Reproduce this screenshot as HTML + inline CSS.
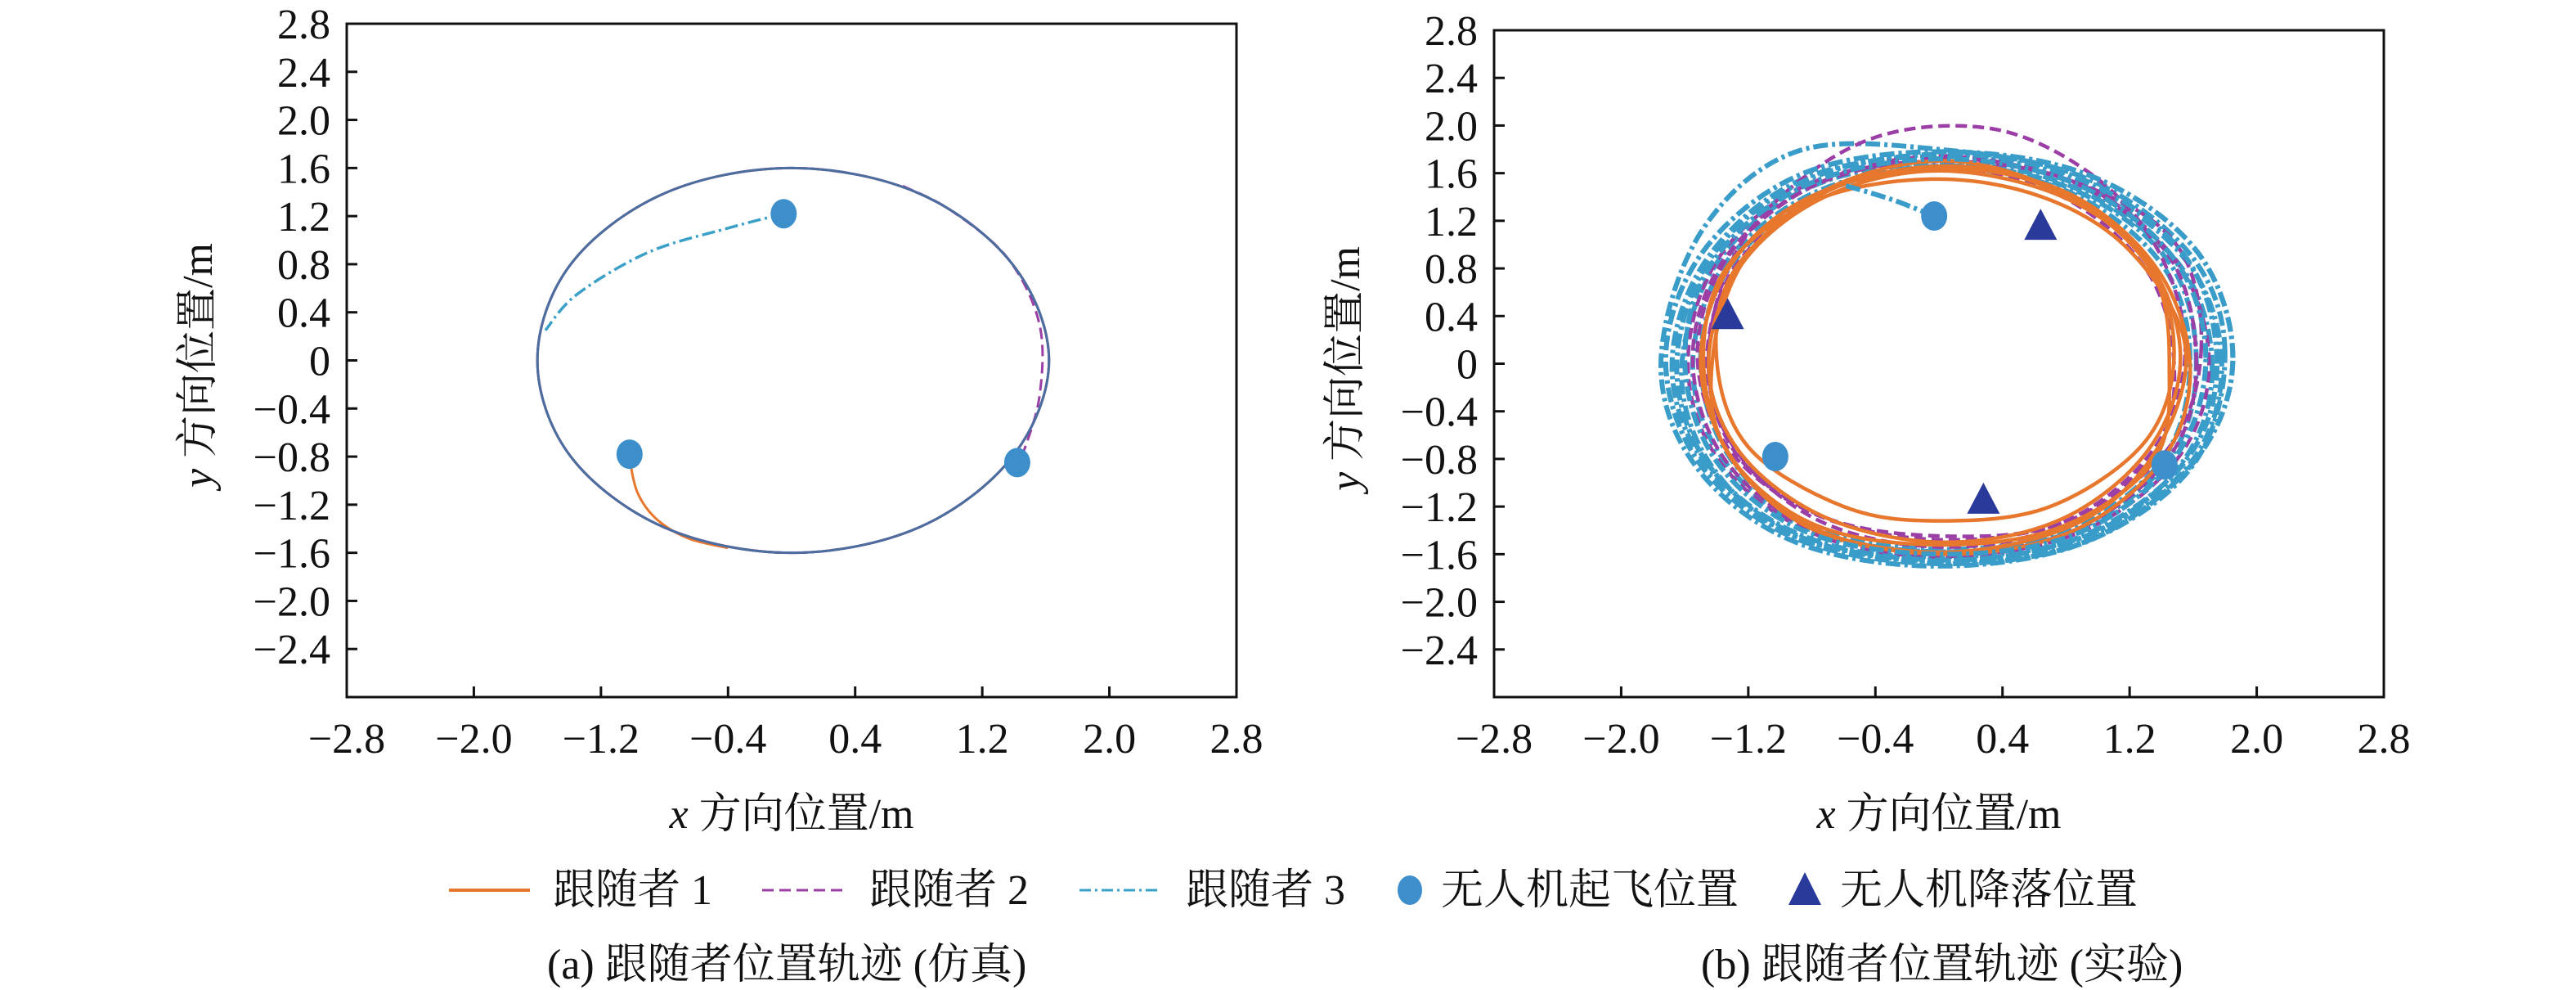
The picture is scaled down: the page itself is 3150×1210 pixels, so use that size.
<!DOCTYPE html>
<html><head><meta charset="utf-8">
<style>
html,body{margin:0;padding:0;background:#fff;}
svg{display:block;}
text{font-family:"Liberation Serif","Noto Serif CJK SC",serif;fill:#111;}
</style></head>
<body>
<svg id="fig" width="3150" height="1210" viewBox="0 0 3150 1210" xmlns="http://www.w3.org/2000/svg">
<g id="pa"></g>
<g id="pb"></g>
<g id="legend">
  <g>
    <line x1="549" y1="1088" x2="648" y2="1088" stroke="#e8772e" stroke-width="4"/>
    <text x="676" y="1105" font-size="52">跟随者 1</text>
  </g>
  <g>
    <line x1="932" y1="1088" x2="1036" y2="1088" stroke="#9b3fa6" stroke-width="3" stroke-dasharray="14,7"/>
    <text x="1063" y="1105" font-size="52">跟随者 2</text>
  </g>
  <g>
    <line x1="1320" y1="1088" x2="1420" y2="1088" stroke="#3aa0c8" stroke-width="3" stroke-dasharray="14,5,3,5"/>
    <text x="1450" y="1105" font-size="52">跟随者 3</text>
  </g>
  <g>
    <ellipse cx="1724" cy="1088" rx="15" ry="18" fill="#3d8fcb"/>
    <text x="1762" y="1105" font-size="52">无人机起飞位置</text>
  </g>
  <g>
    <polygon points="2207,1066 2227,1106 2187,1106" fill="#2a3a9a"/>
    <text x="2250" y="1105" font-size="52">无人机降落位置</text>
  </g>
</g>
<text x="669" y="1196" font-size="52">(a) 跟随者位置轨迹 (仿真)</text>
<text x="2080" y="1196" font-size="52">(b) 跟随者位置轨迹 (实验)</text>
</svg>
<script>
const xTicks = [-2.8,-2.0,-1.2,-0.4,0.4,1.2,2.0,2.8];
const yTicks = [2.8,2.4,2.0,1.6,1.2,0.8,0.4,0,-0.4,-0.8,-1.2,-1.6,-2.0,-2.4];
// Simulation (panel a)
const simCircle = [[1.62,0],[1.39,0.8],[0.8,1.39],[0,1.6],[-0.8,1.39],[-1.39,0.8],[-1.6,0],[-1.39,-0.8],[-0.8,-1.39],[0,-1.6],[0.8,-1.39],[1.39,-0.8]];
const simLead1 = [[-1.02,-0.82],[-0.97,-1.1],[-0.85,-1.32],[-0.65,-1.48],[-0.4,-1.56]];
const simLead2 = [[1.45,-0.8],[1.56,-0.3],[1.56,0.3],[1.36,0.85],[1.0,1.25],[0.7,1.45]];
const simLead3 = [[-0.05,1.22],[-0.4,1.1],[-0.9,0.9],[-1.35,0.55],[-1.55,0.25]];
const simTakeoff = [[-0.05,1.22],[-1.02,-0.78],[1.42,-0.85]];
// Experiment (panel b)
const expF1 = [
[[1.52,0.05],[1.32,0.85],[0.78,1.40],[0.0,1.62],[-0.72,1.40],[-1.25,0.82],[-1.45,0.0],[-1.25,-0.75],[-0.70,-1.30],[0.05,-1.50],[0.78,-1.30],[1.32,-0.72]],
[[1.48,0.1],[1.30,0.9],[0.72,1.46],[0.05,1.66],[-0.70,1.45],[-1.28,0.80],[-1.40,0.05],[-1.20,-0.70],[-0.60,-1.20],[0.0,-1.32],[0.70,-1.20],[1.30,-0.65]],
[[1.58,0.0],[1.36,0.82],[0.80,1.44],[0.02,1.64],[-0.78,1.42],[-1.30,0.85],[-1.50,0.02],[-1.30,-0.80],[-0.78,-1.40],[0.05,-1.60],[0.85,-1.40],[1.42,-0.78]],
[[1.55,0.15],[1.20,0.95],[0.65,1.40],[-0.05,1.55],[-0.80,1.36],[-1.35,0.78],[-1.48,-0.05],[-1.28,-0.85],[-0.72,-1.42],[0.10,-1.58],[0.90,-1.32],[1.38,-0.70]],
[[1.45,-0.05],[1.35,0.75],[0.85,1.38],[0.10,1.70],[-0.65,1.50],[-1.20,0.92],[-1.42,0.10],[-1.35,-0.70],[-0.82,-1.33],[-0.05,-1.52],[0.75,-1.38],[1.35,-0.82]]
];
const expF2 = [
[[1.62,0.0],[1.45,0.90],[0.85,1.52],[0.05,1.72],[-0.78,1.50],[-1.35,0.88],[-1.55,0.05],[-1.35,-0.80],[-0.78,-1.40],[0.05,-1.60],[0.85,-1.40],[1.45,-0.78]],
[[1.55,0.1],[1.38,0.95],[0.95,1.60],[0.30,1.98],[-0.50,1.85],[-1.20,1.10],[-1.45,0.1],[-1.28,-0.75],[-0.70,-1.30],[0.10,-1.45],[0.80,-1.32],[1.35,-0.72]],
[[1.70,0.0],[1.50,0.85],[0.90,1.50],[0.05,1.70],[-0.80,1.52],[-1.38,0.90],[-1.58,0.0],[-1.38,-0.82],[-0.80,-1.42],[0.0,-1.62],[0.88,-1.42],[1.50,-0.80]],
[[1.48,0.0],[1.30,0.80],[0.75,1.42],[0.0,1.64],[-0.72,1.44],[-1.28,0.82],[-1.46,0.0],[-1.26,-0.76],[-0.72,-1.34],[0.05,-1.54],[0.80,-1.34],[1.36,-0.74]],
[[1.65,0.1],[1.52,0.95],[1.00,1.45],[0.10,1.74],[-0.70,1.55],[-1.30,0.95],[-1.52,0.1],[-1.32,-0.72],[-0.75,-1.28],[0.05,-1.48],[0.85,-1.30],[1.45,-0.70]]
];
const expF3 = [
[[1.75,0.0],[1.55,0.90],[0.90,1.55],[0.05,1.76],[-0.82,1.55],[-1.42,0.92],[-1.65,0.0],[-1.45,-0.85],[-0.85,-1.45],[0.05,-1.65],[0.90,-1.45],[1.55,-0.82]],
[[1.85,0.05],[1.62,0.95],[0.95,1.58],[0.05,1.78],[-0.85,1.60],[-1.48,0.95],[-1.72,0.05],[-1.50,-0.85],[-0.88,-1.48],[0.05,-1.68],[0.95,-1.48],[1.62,-0.80]],
[[1.68,0.05],[1.48,0.88],[0.88,1.50],[0.05,1.72],[-0.80,1.52],[-1.40,0.90],[-1.60,0.05],[-1.40,-0.82],[-0.82,-1.42],[0.05,-1.60],[0.88,-1.42],[1.48,-0.80]],
[[1.80,0.10],[1.58,0.92],[0.92,1.56],[0.0,1.80],[-0.90,1.78],[-1.50,1.10],[-1.75,0.0],[-1.52,-0.88],[-0.90,-1.50],[0.0,-1.70],[0.92,-1.50],[1.60,-0.85]],
[[1.72,-0.05],[1.52,0.82],[0.85,1.48],[0.05,1.68],[-0.78,1.50],[-1.38,0.88],[-1.62,-0.05],[-1.42,-0.88],[-0.85,-1.48],[0.05,-1.62],[0.92,-1.45],[1.52,-0.85]],
[[1.62,0.0],[1.45,0.85],[0.85,1.46],[0.05,1.66],[-0.76,1.45],[-1.34,0.85],[-1.55,0.0],[-1.36,-0.80],[-0.80,-1.40],[0.05,-1.58],[0.86,-1.40],[1.45,-0.80]],
[[1.58,0.05],[1.40,0.84],[0.82,1.44],[0.05,1.64],[-0.74,1.44],[-1.30,0.84],[-1.50,0.05],[-1.32,-0.78],[-0.78,-1.38],[0.05,-1.56],[0.84,-1.38],[1.42,-0.78]],
[[1.78,0.0],[1.56,0.86],[0.90,1.52],[0.05,1.74],[-0.84,1.56],[-1.45,0.90],[-1.68,0.0],[-1.47,-0.84],[-0.86,-1.46],[0.05,-1.66],[0.92,-1.46],[1.58,-0.84]]
];
const expLead3 = [[-0.03,1.24],[-0.3,1.38],[-0.6,1.5]];
const expTakeoff = [[-0.03,1.24],[-1.03,-0.78],[1.42,-0.85]];
const expLanding = [[0.64,1.15],[-1.33,0.4],[0.28,-1.15]];

const NS = "http://www.w3.org/2000/svg";
function mk(tag, attrs, parent){const e=document.createElementNS(NS,tag);for(const k in attrs)e.setAttribute(k,attrs[k]);parent.appendChild(e);return e;}
function makeAxes(g, L, R, T, B){
  const sx = v => L + (v+2.8)/5.6*(R-L);
  const sy = v => B - (v+2.8)/5.6*(B-T);
  const f = mk('rect',{x:L,y:T,width:R-L,height:B-T,fill:'none',stroke:'#111','stroke-width':3},g);
  
  
  xTicks.forEach(t=>{
    if(Math.abs(t)<2.7){ const l=mk('line',{x1:sx(t),x2:sx(t),y1:B,y2:B-13,stroke:'#111','stroke-width':3},g);
      
      }
    const tx=mk('text',{x:sx(t),y:B+68,'font-size':52,'text-anchor':'middle'},g);
    tx.textContent=(t<0?'\u2212':'')+Math.abs(t).toFixed(1);
    
    
  });
  yTicks.forEach(t=>{
    if(Math.abs(t)<2.7){ const l=mk('line',{x1:L,x2:L+13,y1:sy(t),y2:sy(t),stroke:'#111','stroke-width':3},g);
      
      }
    const tx=mk('text',{x:L-20,y:sy(t)+18,'font-size':52,'text-anchor':'end'},g);
    tx.textContent=t===0?'0':(t<0?'\u2212':'')+Math.abs(t).toFixed(1);
    
    
  });
  const xt=mk('text',{x:(L+R)/2,y:1012,'font-size':52,'text-anchor':'middle'},g);
  xt.innerHTML='<tspan font-style="italic">x</tspan> 方向位置/m';
  
  
  const cy=(T+B)/2+6, cx=L-165;
  const yt=mk('text',{x:cx,y:cy,'font-size':52,'text-anchor':'middle',transform:`rotate(-90 ${cx} ${cy})`},g);
  yt.innerHTML='<tspan font-style="italic">y</tspan> 方向位置/m';
  
  
  return {sx,sy};
}
function crPath(pts, sc, closed){
  const P=pts.map(p=>[sc.sx(p[0]),sc.sy(p[1])]);const n=P.length;
  let d=`M${P[0][0]},${P[0][1]}`;
  const segs=closed?n:n-1;
  for(let i=0;i<segs;i++){
    const g=k=>closed?P[(k+n)%n]:P[Math.max(0,Math.min(n-1,k))];
    const p0=g(i-1),p1=g(i),p2=g(i+1),p3=g(i+2);
    d+=`C${p1[0]+(p2[0]-p0[0])/6},${p1[1]+(p2[1]-p0[1])/6} ${p2[0]-(p3[0]-p1[0])/6},${p2[1]-(p3[1]-p1[1])/6} ${p2[0]},${p2[1]}`;
  }
  return d+(closed?'Z':'');
}
const styles={
  f1:{stroke:'#e8772e','stroke-width':3,fill:'none'},
  f2:{stroke:'#9b3fa6','stroke-width':3,fill:'none','stroke-dasharray':'14,7'},
  f3:{stroke:'#3aa0c8','stroke-width':3.5,fill:'none','stroke-dasharray':'16,5,3,5'}
};
const stylesB={
  f1:{stroke:'#e8772e','stroke-width':4.5,fill:'none'},
  f2:{stroke:'#9b3fa6','stroke-width':4.5,fill:'none','stroke-dasharray':'14,7'},
  f3:{stroke:'#3a9cc8','stroke-width':6,fill:'none','stroke-dasharray':'18,5,4,5'}
};
function line(g,pts,sc,closed,st,name){
  const p=mk('path',Object.assign({d:crPath(pts,sc,closed)},st),g);
  
  
}
function dots(g,pts,sc){pts.forEach(p=>{
  const e=mk('ellipse',{cx:sc.sx(p[0]),cy:sc.sy(p[1]),rx:16,ry:18,fill:'#3d8fcb'},g);
  
  });}
function tris(g,pts,sc){pts.forEach(p=>{
  const x=sc.sx(p[0]),y=sc.sy(p[1]);
  const e=mk('polygon',{points:`${x},${y-22} ${x+20},${y+16} ${x-20},${y+16}`,fill:'#2a3a9a'},g);
  
  });}

// Panel a
const ga=document.getElementById('pa');
const A=makeAxes(ga,424,1512,29,852);
line(ga,simCircle,A,true,{stroke:'#e8772e','stroke-width':3,fill:'none'},'sim-follower-1-path');
line(ga,simLead1,A,false,styles.f1,'sim-follower-1-lead');
line(ga,simCircle,A,true,{stroke:'#9b3fa6','stroke-width':3,fill:'none'},'sim-follower-2-path');
line(ga,simLead2,A,false,styles.f2,'sim-follower-2-lead');
line(ga,simCircle,A,true,{stroke:'#4a6ea0','stroke-width':3,fill:'none'},'sim-follower-3-path');
line(ga,simLead3,A,false,styles.f3,'sim-follower-3-lead');
dots(ga,simTakeoff,A);

// Panel b
const gb=document.getElementById('pb');
const Bs=makeAxes(gb,1827,2915,37,852);
expF3.forEach(lp=>line(gb,lp,Bs,true,stylesB.f3,'exp-follower-3-loop'));
expF2.forEach(lp=>line(gb,lp,Bs,true,stylesB.f2,'exp-follower-2-loop'));
expF1.forEach(lp=>line(gb,lp,Bs,true,stylesB.f1,'exp-follower-1-loop'));
expF3.slice(0,3).forEach(lp=>line(gb,lp,Bs,true,stylesB.f3,'exp-follower-3-loop'));
line(gb,expLead3,Bs,false,stylesB.f3,'exp-follower-3-lead');
dots(gb,expTakeoff,Bs);
tris(gb,expLanding,Bs);
</script>
</body></html>
